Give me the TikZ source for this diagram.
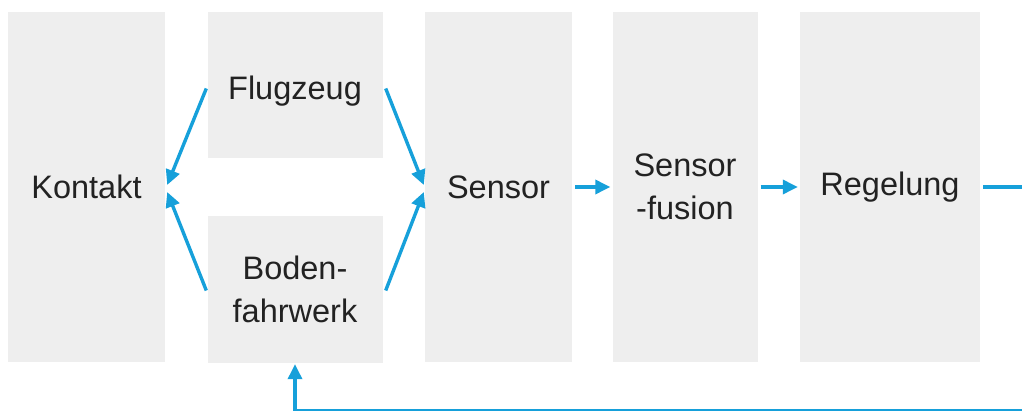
\documentclass[tikz,border=0pt]{standalone}
\usepackage{fontspec}
\setmainfont{Liberation Sans}
\usetikzlibrary{arrows.meta,calc}
\definecolor{boxgray}{RGB}{238,238,238}
\definecolor{flowblue}{RGB}{22,160,218}
\definecolor{textdark}{RGB}{34,34,34}
\tikzset{
  blocktext/.style={align=center, text=textdark, font=\fontsize{32.5}{43}\selectfont},
  block/.style={fill=boxgray, draw=none, inner sep=0pt, blocktext},
  flow/.style={draw=flowblue, line width=3.4pt,
    -{Triangle[length=15pt,width=14pt]}},
}
\begin{document}
\begin{tikzpicture}[x=1pt,y=-1pt]
\useasboundingbox (0,0) rectangle (1022,411);

% blocks
\node[block, minimum width=157pt, minimum height=349pt] (kontakt) at (86.5,187) {Kontakt};
\node[block, minimum width=175pt, minimum height=146pt,
  label={[blocktext, yshift=-6pt]center:Flugzeug}] (flug) at (295,85.5) {};
\node[block, minimum width=175pt, minimum height=147pt] (boden) at (295,289.5) {Boden-\\fahrwerk};
\node[block, minimum width=147pt, minimum height=349pt] (sensor) at (498.5,187) {Sensor};
\node[block, minimum width=145pt, minimum height=349pt] (fusion) at (685,187) {Sensor\\-fusion};
\node[block, minimum width=180pt, minimum height=349pt] (regel) at (890,187) {Regelung};

% feedback route corners
\coordinate (fbA) at (1034,187);
\coordinate (fbB) at (1034,410.5);

% connectors
\draw[flow] ([xshift=-1pt,yshift=-3pt]flug.west) -- ([xshift=2pt,yshift=2pt]kontakt.east);
\draw[flow] ([xshift=-1pt,yshift=-1pt]boden.west) -- ([xshift=2pt,yshift=-5pt]kontakt.east);
\draw[flow] ([xshift=3pt,yshift=-3pt]flug.east) -- ([xshift=-1pt,yshift=2pt]sensor.west);
\draw[flow] ([xshift=3pt,yshift=-1pt]boden.east) -- ([xshift=-1pt,yshift=-5pt]sensor.west);
\draw[flow] ([xshift=3pt]sensor.east) -- ([xshift=-2pt]fusion.west);
\draw[flow] ([xshift=3pt]fusion.east) -- ([xshift=-2pt]regel.west);
\draw[flow] ([xshift=3pt]regel.east) -- (fbA) -- (fbB) -| ([yshift=-1pt]boden.south);
\end{tikzpicture}
\end{document}
